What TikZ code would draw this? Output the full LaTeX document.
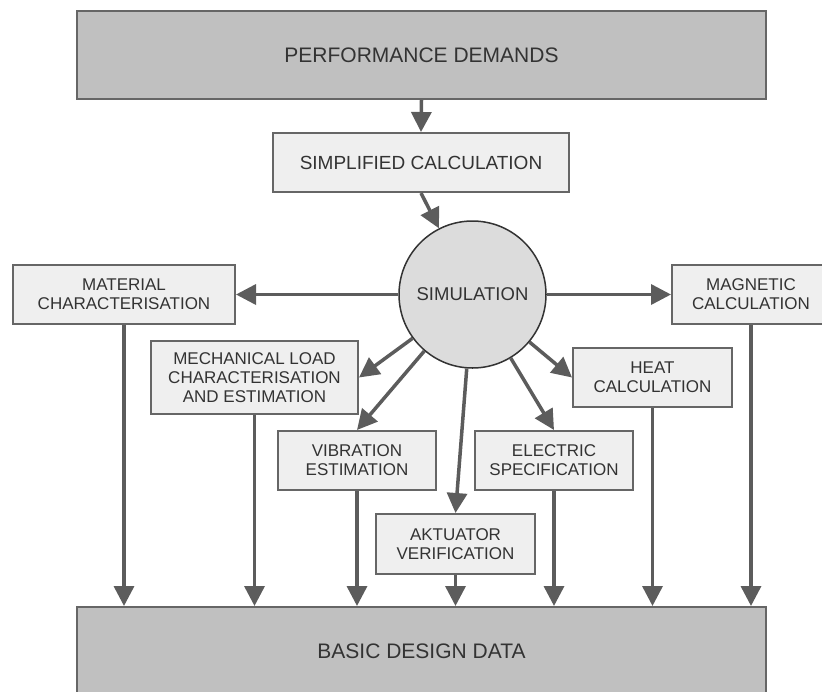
\documentclass[tikz,border=0pt]{standalone}
\usepackage{fontspec}
\setmainfont{Liberation Sans}
\usetikzlibrary{arrows.meta}
\definecolor{darkbox}{HTML}{C0C0C0}
\definecolor{lightbox}{HTML}{EFEFEF}
\definecolor{circfill}{HTML}{DCDCDC}
\definecolor{edgegray}{HTML}{666666}
\definecolor{arrgray}{HTML}{5C5C5C}
\definecolor{txtgray}{HTML}{333333}
\begin{document}
\begin{tikzpicture}[x=1pt,y=-1pt,
  bigbox/.style={draw=edgegray, line width=2pt, fill=darkbox, text=txtgray,
    inner sep=0pt, minimum width=689pt, minimum height=88pt,
    font=\fontsize{21pt}{23pt}\selectfont},
  lbox/.style={draw=edgegray, line width=2pt, fill=lightbox, text=txtgray,
    inner sep=0pt, align=center, minimum height=59pt,
    font=\fontsize{17pt}{19pt}\selectfont},
  simcirc/.style={circle, draw=txtgray, line width=1.5pt, fill=circfill, text=txtgray,
    inner sep=0pt, minimum size=147pt, font=\fontsize{18.5pt}{20pt}\selectfont},
  conn/.style={draw=arrgray, line width=3.5pt, -{Triangle[length=20pt,width=20pt]}}
]
\useasboundingbox (0,0) rectangle (822,691);
\node[bigbox] (perf) at (421.5,55) {PERFORMANCE DEMANDS};
\node[lbox, minimum width=296pt, font=\fontsize{19pt}{21pt}\selectfont] (simp) at (421,162.5) {SIMPLIFIED CALCULATION};
\node[simcirc] (sim) at (472.5,294.5) {SIMULATION};
\node[lbox, minimum width=222pt] (mat) at (124,294.5) {MATERIAL\\CHARACTERISATION};
\node[lbox, minimum width=158pt] (mag) at (751,294.5) {MAGNETIC\\CALCULATION};
\node[lbox, minimum width=207pt, minimum height=73pt] (mech) at (254.5,377.5) {MECHANICAL LOAD\\CHARACTERISATION\\AND ESTIMATION};
\node[lbox, minimum width=159pt] (heat) at (652.5,377.5) {HEAT\\CALCULATION};
\node[lbox, minimum width=158pt] (vib) at (357,460.5) {VIBRATION\\ESTIMATION};
\node[lbox, minimum width=158pt] (elec) at (554,460.5) {ELECTRIC\\SPECIFICATION};
\node[lbox, minimum width=159pt, minimum height=60pt] (akt) at (455.5,544) {AKTUATOR\\VERIFICATION};
\node[bigbox] (base) at (421.5,651) {BASIC DESIGN DATA};

\draw[conn] (perf.south) -- (simp.north);
\draw[conn] (simp.south) -- (sim);
\draw[conn] (sim) -- (mat.east);
\draw[conn] (sim) -- (mag.west);
\draw[conn] (sim) -- (mech.east);
\draw[conn] (sim) -- (heat.west);
\draw[conn] (sim) -- (vib.north);
\draw[conn] (sim) -- (elec.north);
\draw[conn] (sim) -- (akt.north);
\foreach \n in {mat,mech,vib,akt,elec,heat,mag}
  \draw[conn] (\n.south) -- (\n.south |- base.north);
\end{tikzpicture}
\end{document}
